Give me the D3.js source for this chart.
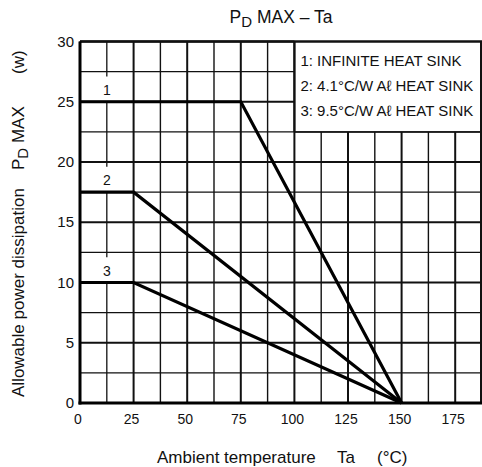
<!DOCTYPE html>
<html>
<head>
<meta charset="utf-8">
<script src="https://cdn.jsdelivr.net/npm/d3@7"></script>
<style>
body { margin: 0; background: #fff; }
text { font-family: "Liberation Sans", Arial, sans-serif; fill: #111; }
</style>
</head>
<body>
<script>
// chart data
var curveNames = ['1', '2', '3'];
var curve1 = [[0, 25], [75, 25], [150, 0]];
var curve2 = [[0, 17.5], [25, 17.5], [150, 0]];
var curve3 = [[0, 10], [25, 10], [150, 0]];
var legendLines = ['1: INFINITE HEAT SINK', '2: 4.1°C/W Aℓ HEAT SINK', '3: 9.5°C/W Aℓ HEAT SINK'];
var xTicks = [0, 25, 50, 75, 100, 125, 150, 175];
var yTicks = [0, 5, 10, 15, 20, 25, 30];

var width = 482, height = 467;
var pLeft = 80, pRight = 482, pTop = 41.5, pBottom = 403;

var x = d3.scaleLinear().domain([0, 187.5]).range([pLeft, pRight]);
var y = d3.scaleLinear().domain([0, 30]).range([pBottom, pTop]);

var svg = d3.select('body').append('svg')
	.attr('width', width)
	.attr('height', height);

// grid
var xGrid = d3.range(0, 187.5 + 0.1, 12.5);
var yGrid = d3.range(0, 30 + 0.1, 2.5);

// legend box covers x 100..187.5, y 22.5..30 -> no grid there
var g = svg.append('g');
xGrid.forEach(function(v) {
	var y2 = 30;
	if (v > 100) y2 = 22.5;
	var major = v % 25 === 0;
	if (v === 12.5) {
		// gaps above each curve for the labels
		var segs = [[0, 10], [12.1, 17.5], [19.6, 25], [27.1, 30]];
		segs.forEach(function(s) {
			g.append('line').attr('x1', x(v)).attr('x2', x(v))
				.attr('y1', y(s[0])).attr('y2', y(s[1]))
				.attr('stroke', '#222').attr('stroke-width', 1.4);
		});
		return;
	}
	g.append('line').attr('x1', x(v)).attr('x2', x(v))
		.attr('y1', y(0)).attr('y2', y(y2))
		.attr('stroke', '#111').attr('stroke-width', major ? 2 : 1.4);
});
yGrid.forEach(function(v) {
	var x2 = 187.5;
	if (v > 22.5) x2 = 100;
	var major = v % 5 === 0;
	g.append('line').attr('x1', x(0)).attr('x2', x(x2))
		.attr('y1', y(v)).attr('y2', y(v))
		.attr('stroke', '#111').attr('stroke-width', major ? 2 : 1.4);
});

// legend box border
svg.append('line').attr('x1', x(100)).attr('x2', x(100)).attr('y1', y(30)).attr('y2', y(22.5))
	.attr('stroke', '#111').attr('stroke-width', 2);
svg.append('line').attr('x1', x(100)).attr('x2', x(187.5)).attr('y1', y(22.5)).attr('y2', y(22.5))
	.attr('stroke', '#111').attr('stroke-width', 1.5);

// frame
svg.append('line').attr('x1', pLeft).attr('x2', pRight).attr('y1', pTop).attr('y2', pTop)
	.attr('stroke', '#111').attr('stroke-width', 2.5);
svg.append('line').attr('x1', pRight - 1).attr('x2', pRight - 1).attr('y1', pTop).attr('y2', pBottom)
	.attr('stroke', '#111').attr('stroke-width', 2);
svg.append('line').attr('x1', pLeft).attr('x2', pLeft).attr('y1', pTop).attr('y2', pBottom + 1.5)
	.attr('stroke', '#000').attr('stroke-width', 3);
svg.append('line').attr('x1', pLeft - 1.5).attr('x2', pRight).attr('y1', pBottom).attr('y2', pBottom)
	.attr('stroke', '#000').attr('stroke-width', 3);

// curves
var line = d3.line().x(function(d) { return x(d[0]); }).y(function(d) { return y(d[1]); });
[curve1, curve2, curve3].forEach(function(c) {
	svg.append('path').attr('d', line(c))
		.attr('fill', 'none').attr('stroke', '#000').attr('stroke-width', 3.2)
		.attr('stroke-linejoin', 'miter');
});

// curve labels
[curve1, curve2, curve3].forEach(function(c, i) {
	svg.append('text').attr('x', x(12.5)).attr('y', y(c[0][1]) - 7)
		.attr('text-anchor', 'middle').attr('font-size', 14)
		.text(curveNames[i]);
});

// legend text
legendLines.forEach(function(t, i) {
	svg.append('text').attr('x', x(100) + 6).attr('y', 65.5 + i * 25)
		.attr('font-size', 15).text(t);
});

// ticks
svg.selectAll('.xt').data(xTicks).enter().append('text')
	.attr('x', function(d) { return x(d) - 2; })
	.attr('y', 423.5)
	.attr('text-anchor', 'middle').attr('font-size', 14)
	.text(function(d) { return d; });
svg.selectAll('.yt').data(yTicks).enter().append('text')
	.attr('x', 74)
	.attr('y', function(d) { return y(d) + 5; })
	.attr('text-anchor', 'end').attr('font-size', 15)
	.text(function(d) { return d; });

// title
var title = svg.append('text').attr('x', 281).attr('y', 23)
	.attr('text-anchor', 'middle').attr('font-size', 17.5);
title.append('tspan').text('P');
title.append('tspan').attr('font-size', 15).attr('dy', 4).text('D');
title.append('tspan').attr('dy', -4).text(' MAX – Ta');

// x title
svg.append('text').attr('x', 157).attr('y', 463)
	.attr('font-size', 17).text('Ambient temperature');
svg.append('text').attr('x', 337).attr('y', 463)
	.attr('font-size', 17).text('Ta');
svg.append('text').attr('x', 377).attr('y', 463)
	.attr('font-size', 17).text('(°C)');

// y title, three pieces
function yTitle(pos, build) {
	var t = svg.append('text')
		.attr('transform', 'translate(24,' + pos + ') rotate(-90)')
		.attr('font-size', 17);
	build(t);
}
yTitle(397, function(t) { t.text('Allowable power dissipation'); });
yTitle(170, function(t) {
	t.append('tspan').text('P');
	t.append('tspan').attr('font-size', 15).attr('dy', 4).text('D');
	t.append('tspan').attr('dy', -4).text(' MAX');
});
yTitle(74, function(t) { t.text('(w)'); });
</script>
</body>
</html>
